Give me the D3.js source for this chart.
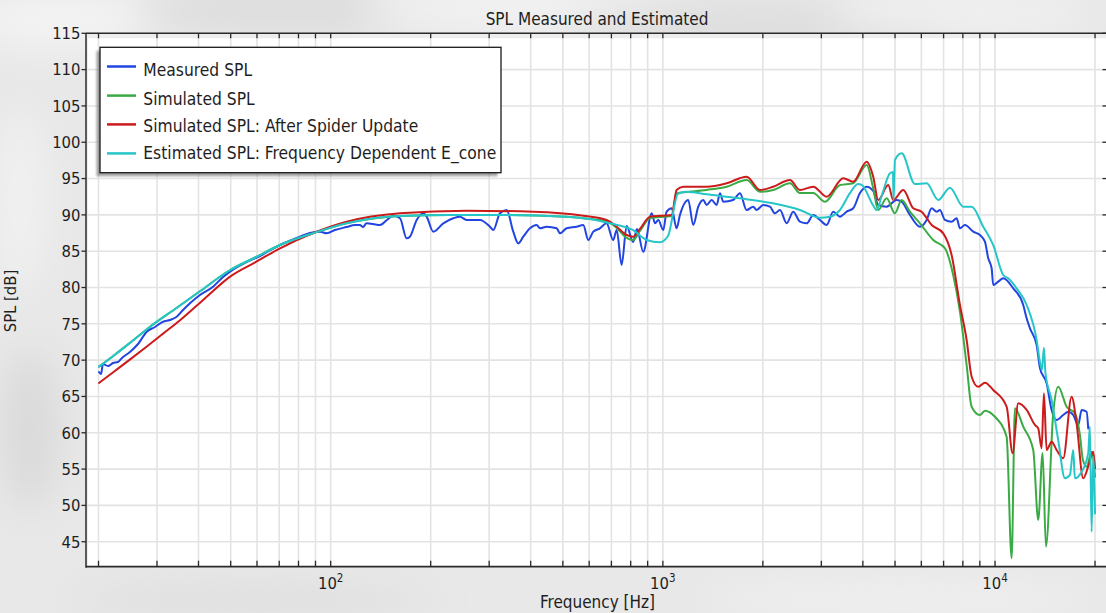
<!DOCTYPE html>
<html>
<head>
<meta charset="utf-8">
<script src="https://cdn.jsdelivr.net/npm/d3@7"></script>
<style>
html, body { margin: 0; padding: 0; background: #e9e9e9; overflow: hidden; }
svg { display: block; }
text { font-family: "DejaVu Sans Condensed", "DejaVu Sans", sans-serif; font-stretch: condensed; fill: #1e1e1e; }
</style>
</head>
<body>
<svg id="chart" width="1106" height="613"></svg>
<script>
// ---- Data: frequency [Hz] and SPL [dB] per series ----
const measuredFreq = [20.07,20.35,20.63,21.36,22.11,22.89,23.53,24.87,26.30,27.94,29.59,31.27,32.83,34.39,35.93,37.7,40.4,44.23,47.07,49.77,55.2,61.25,70.4,80.8,86.6,92.9,97.3,103.0,111.7,118.3,122.5,125.1,128.3,134.1,140.8,147.7,154.0,161.7,169.3,173.2,181.5,190.0,194.5,203.6,218.3,233.9,245.0,256.6,281.5,301.7,308.7,323.3,338.7,354.5,367.0,380.0,398.0,417.0,426.6,446.9,478.9,490.0,513.3,550.1,576,596.4,617.4,646.7,677,709,726,751.5,778,814,835.6,873,925.5,947,968.9,1002.7,1026.6,1063,1100,1125.6,1192.3,1234.4,1278,1323,1355,1402.5,1452,1485.6,1520,1628,1707,1787,1871,1915.5,2005,2101,2175,2252,2359,2469,2586,2710,2836,2971,3112,3258,3413,3575,3742,3921,4107,4298,4450,4718,5056,5234,5543,5942,6224,6445,6670,6825,7066,7401,7663,7841,8117,8598,9006,9324,9540,9767,9875,10224,10585,11344,12160,12450,12739,13342,13651,14299,14803,15325,16042,16608,17192,17799,18223,18865,19076];
const measuredSPL = [68.37,68.09,69.47,69.19,69.61,69.75,70.3,71.12,72.22,73.92,74.56,75.29,75.53,75.98,76.9,77.83,78.97,80.11,81.31,82.18,83.38,84.34,85.85,87.0,87.51,87.69,87.47,87.92,88.33,88.61,88.61,88.33,88.84,88.74,88.61,89.3,89.89,89.53,86.78,87.0,89.3,90.22,89.75,87.69,88.84,89.53,89.75,89.3,89.3,88.37,87.92,90.22,90.67,87.69,86.08,87.0,88.15,88.61,88.15,88.37,88.15,87.47,88.15,88.37,88.61,86.54,87.69,88.15,88.84,86.54,87.92,83.1,88.47,86.27,88.06,84.93,90.22,88.84,89.3,87.92,90.44,90.91,88.15,89.98,92.05,88.61,91.13,92.05,91.36,92.05,91.36,92.97,91.81,92.05,92.97,90.67,91.13,90.67,91.36,91.13,90.22,90.67,88.84,90.44,89.06,88.84,89.98,89.3,88.61,90.44,89.75,90.44,90.91,93.0,93.88,93.29,91.36,91.13,92.05,91.81,89.98,88.37,89.3,90.91,90.44,90.67,89.3,89.06,89.53,88.15,88.61,87.69,87.23,86.31,84.02,82.65,80.35,80.8,81.27,79.89,77.59,75.76,74.38,72.08,68.92,66.81,63.14,61.76,62.45,62.9,62.45,61.07,63.14,62.9,60.6];

const simulatedFreq = [20.07,22.4,24.9,28.6,34.0,40.4,49.8,59.2,70.4,88.5,111.7,161.7,228.6,323.3,513.3,603.5,677,726,778,814,853,915,1063,1100,1355,1556,1787,1960,2149,2413,2586,2836,3075,3413,3742,4107,4298,4450,4718,4996,5234,5543,5942,6517,7066,7483,7841,8213,8503,9006,9324,9993,10836,11218,11479,12160,13031,13491,13908,14230,14968,15495,16424,17396,18010,18387,18865,19530,20000];
const simulatedSPL = [69.1,70.75,72.4,74.6,77.04,79.48,82.41,84.13,85.85,87.47,88.84,89.85,90.0,90.0,89.75,89.43,89.16,88.2,86.82,86.54,87.78,89.57,89.85,92.97,93.43,93.88,94.8,93.19,93.43,94.35,93.0,93.0,91.8,94.1,94.35,96.87,93.66,90.67,92.28,90.22,92.05,90.44,88.84,86.54,85.4,81.72,76.67,69.33,63.59,62.45,63.04,62.2,59.46,42.72,63.37,60.84,57.63,48.0,57.2,44.32,62.68,66.34,63.59,62.68,59.7,56.25,55.33,57.4,53.95];

const spiderFreq = [20.07,22.4,24.9,27.9,31.3,35.2,41.8,49.8,59.2,70.4,88.6,111.7,161.7,256.6,407.2,576,677,726,778,814,853,915,1063,1100,1152,1355,1556,1787,1960,2149,2413,2586,2836,3112,3492,3742,4107,4298,4450,4770,4938,5292,5671,6012,6445,6983,7401,7841,8213,8503,8901,9324,9875,10836,11297,11745,12450,13186,13491,13812,14034,14299,14803,15325,16042,17003,17602,18426,19076,19748,20000];
const spiderSPL = [66.85,68.5,70.1,71.85,73.65,75.5,78.5,81.5,83.45,85.4,87.5,89.06,90.22,90.57,90.44,89.89,89.3,88.37,87.23,87.0,88.06,89.75,89.98,93.43,93.88,93.88,94.35,95.26,93.43,93.88,94.8,93.43,93.88,92.5,95.03,94.57,97.32,95.26,92.05,94.1,92.05,93.43,90.91,90.44,88.61,87.46,84.48,77.59,72.77,67.72,66.34,66.9,65.89,63.59,57.2,64.06,63.14,61.07,60.6,57.86,65.44,57.63,58.77,57.63,56.49,64.97,61.3,53.73,55.33,57.4,55.1];

const estimatedFreq = [20.07,22.4,24.9,28.6,34.0,40.4,49.8,59.2,70.4,88.5,111.7,161.7,228.6,323.3,513.3,603.5,693,812,894,980,1036,1110,1174,1355,1707,2145,2586,2971,3184,3413,3658,3867,3976,4289,4401,4566,4827,4928,4949,4996,5234,5738,6224,6745,7314,8022,8503,9214,9875,10585,10958,11614,12450,13342,13651,13841,14034,14181,14803,15495,16232,16804,17192,17396,18223,19076,19301,19530,19748,20000];
const estimatedSPL = [69.1,70.75,72.4,74.6,77.04,79.48,82.41,84.13,85.85,87.47,88.84,89.85,89.98,89.98,89.75,89.43,88.84,87.92,86.54,86.23,87.09,92.88,93.19,92.83,92.28,91.59,90.67,89.61,89.75,90.67,93.0,94.25,94.1,91.36,90.67,92.74,95.72,95.9,92.05,97.56,98.48,94.25,94.35,92.05,93.74,91.13,91.13,88.37,85.85,81.72,81.27,79.89,77.59,72.77,69.74,68.64,71.72,68.23,64.52,59.0,53.73,54.19,57.63,53.73,54.64,57.17,60.85,46.38,56.7,48.9];

const seriesNames = ["Measured SPL", "Simulated SPL", "Simulated SPL: After Spider Update", "Estimated SPL: Frequency Dependent E_cone"];
const seriesColors = ["#2244e0", "#3aaa44", "#cc1b1b", "#26c6c8"];

const splTicks = [45, 50, 55, 60, 65, 70, 75, 80, 85, 90, 95, 100, 105, 110, 115];
const freqTicks = [20,30,40,50,60,70,80,90,100,200,300,400,500,600,700,800,900,1000,2000,3000,4000,5000,6000,7000,8000,9000,10000,20000];
const decadeLabels = [{f: 100, exp: "2"}, {f: 1000, exp: "3"}, {f: 10000, exp: "4"}];

const titleText = "SPL Measured and Estimated";
const xTitle = "Frequency [Hz]";
const yTitle = "SPL [dB]";

// ---- Layout ----
const W = 1106, H = 613;
const P = {left: 86, right: 1107, top: 33.3, bottom: 566.7};

const svg = d3.select("#chart");
const defs = svg.append("defs");

// soft backdrop
const blur = defs.append("filter").attr("id", "soft").attr("x", "-50%").attr("y", "-50%").attr("width", "200%").attr("height", "200%");
blur.append("feGaussianBlur").attr("stdDeviation", 18);
const shadowBlur = defs.append("filter").attr("id", "shadow");
shadowBlur.append("feGaussianBlur").attr("stdDeviation", 1.2);

svg.append("rect").attr("width", W).attr("height", H).attr("fill", "#e8e8e8");
const blobs = [
  [60, 20, 90, 30, "#f3f3f3"], [300, 10, 160, 22, "#dcdcdc"], [520, 8, 160, 18, "#f4f4f4"],
  [760, 30, 200, 26, "#dedede"], [960, 12, 130, 18, "#f2f2f2"], [20, 200, 24, 90, "#f1f1f1"],
  [30, 430, 30, 80, "#dadada"], [250, 600, 180, 16, "#dedede"], [900, 600, 200, 16, "#f0f0f0"]
];
svg.append("g").attr("filter", "url(#soft)").selectAll("ellipse").data(blobs).join("ellipse")
  .attr("cx", d => d[0]).attr("cy", d => d[1]).attr("rx", d => d[2]).attr("ry", d => d[3]).attr("fill", d => d[4]);

const x = d3.scaleLog().domain([18.34, 21730]).range([P.left, P.right]);
const y = d3.scaleLinear().domain([41.56, 115]).range([P.bottom, P.top]);

// plot background
svg.append("rect").attr("x", P.left).attr("y", P.top).attr("width", P.right - P.left).attr("height", P.bottom - P.top).attr("fill", "#ffffff");
svg.append("rect").attr("x", P.left).attr("y", P.top).attr("width", P.right - P.left).attr("height", 5).attr("fill", "#ededed");
svg.append("rect").attr("x", P.left).attr("y", P.top).attr("width", 2).attr("height", P.bottom - P.top).attr("fill", "#ededed");

// grid
const grid = svg.append("g").attr("stroke", "#e3e3e3").attr("stroke-width", 1.6);
grid.selectAll("line.v").data(freqTicks).join("line").attr("class", "v")
  .attr("x1", d => x(d)).attr("x2", d => x(d)).attr("y1", P.top).attr("y2", P.bottom);
grid.selectAll("line.h").data(splTicks).join("line").attr("class", "h")
  .attr("x1", P.left).attr("x2", P.right).attr("y1", d => y(d)).attr("y2", d => y(d));

// series
const series = [
  {freq: measuredFreq, spl: measuredSPL},
  {freq: simulatedFreq, spl: simulatedSPL},
  {freq: spiderFreq, spl: spiderSPL},
  {freq: estimatedFreq, spl: estimatedSPL}
];
const line = d3.line().x(d => x(d[0])).y(d => y(d[1])).curve(d3.curveMonotoneX);
const clip = defs.append("clipPath").attr("id", "plotClip");
clip.append("rect").attr("x", P.left).attr("y", P.top).attr("width", P.right - P.left).attr("height", P.bottom - P.top);
const lines = svg.append("g").attr("clip-path", "url(#plotClip)");
series.forEach((s, i) => {
  const pts = s.freq.map((f, k) => [f, s.spl[k]]);
  lines.append("path").datum(pts).attr("d", line)
    .attr("fill", "none").attr("stroke", seriesColors[i]).attr("stroke-width", 2)
    .attr("stroke-linejoin", "round").attr("stroke-linecap", "round");
});

// frame
const axisColor = "#2a2a2a";
const frame = svg.append("g").attr("stroke", axisColor).attr("fill", "none");
frame.append("line").attr("x1", P.left).attr("x2", P.left).attr("y1", P.top).attr("y2", P.bottom + 1).attr("stroke-width", 1.5);
frame.append("line").attr("x1", P.left).attr("x2", P.right).attr("y1", P.bottom).attr("y2", P.bottom).attr("stroke-width", 1.8);
frame.append("line").attr("x1", P.left).attr("x2", P.right).attr("y1", P.top).attr("y2", P.top).attr("stroke-width", 1.5);
frame.append("line").attr("x1", P.right).attr("x2", P.right).attr("y1", P.top).attr("y2", P.bottom).attr("stroke-width", 1.5);

// x ticks (inward, bottom and top)
const ticks = svg.append("g").attr("stroke", axisColor).attr("stroke-width", 1.3);
ticks.selectAll("line.xb").data(freqTicks).join("line").attr("class", "xb")
  .attr("x1", d => x(d)).attr("x2", d => x(d)).attr("y1", P.bottom).attr("y2", P.bottom - 6);
ticks.selectAll("line.xt").data(freqTicks).join("line").attr("class", "xt")
  .attr("x1", d => x(d)).attr("x2", d => x(d)).attr("y1", P.top).attr("y2", P.top + 5);
// y ticks (outward left, inward right)
ticks.selectAll("line.yl").data(splTicks).join("line").attr("class", "yl")
  .attr("x1", P.left - 4.5).attr("x2", P.left).attr("y1", d => y(d)).attr("y2", d => y(d));
ticks.selectAll("line.yr").data(splTicks).join("line").attr("class", "yr")
  .attr("x1", P.right - 4.5).attr("x2", P.right).attr("y1", d => y(d)).attr("y2", d => y(d));

// y tick labels
svg.append("g").selectAll("text").data(splTicks).join("text")
  .attr("x", P.left - 5.5).attr("y", d => y(d) + 5.8)
  .attr("text-anchor", "end").attr("font-size", 16.5).text(d => d);

// x decade labels, 10^n
const xl = svg.append("g").selectAll("text").data(decadeLabels).join("text")
  .attr("x", d => x(d.f)).attr("y", 588.5).attr("text-anchor", "middle").attr("font-size", 16.5);
xl.append("tspan").text("10");
xl.append("tspan").attr("dy", -6.5).attr("font-size", 11.5).text(d => d.exp);

// titles
svg.append("text").attr("x", 597).attr("y", 25).attr("text-anchor", "middle").attr("font-size", 17).text(titleText);
svg.append("text").attr("x", 597.5).attr("y", 608).attr("text-anchor", "middle").attr("font-size", 17).text(xTitle);
svg.append("text").attr("transform", "translate(15.5,301) rotate(-90)").attr("text-anchor", "middle").attr("font-size", 16.5).text(yTitle);

// legend
const L = {x: 100, y: 47.3, w: 401, h: 125.4};
const leg = svg.append("g");
leg.append("rect").attr("x", L.x - 3.5).attr("y", L.y + 3.5).attr("width", L.w).attr("height", L.h)
  .attr("fill", "#7a7a7a").attr("opacity", 0.7).attr("filter", "url(#shadow)");
leg.append("rect").attr("x", L.x).attr("y", L.y).attr("width", L.w).attr("height", L.h)
  .attr("fill", "#ffffff").attr("stroke", "#1a1a1a").attr("stroke-width", 1.3);
const rowLine = [66.5, 95.6, 124.4, 153.4];
const rowText = [76, 105, 131.8, 159.4];
seriesNames.forEach((name, i) => {
  leg.append("line").attr("x1", 107).attr("x2", 136).attr("y1", rowLine[i]).attr("y2", rowLine[i])
    .attr("stroke", seriesColors[i]).attr("stroke-width", 2.5);
  leg.append("text").attr("x", 143.3).attr("y", rowText[i]).attr("font-size", 17.3).text(name);
});
</script>
</body>
</html>
